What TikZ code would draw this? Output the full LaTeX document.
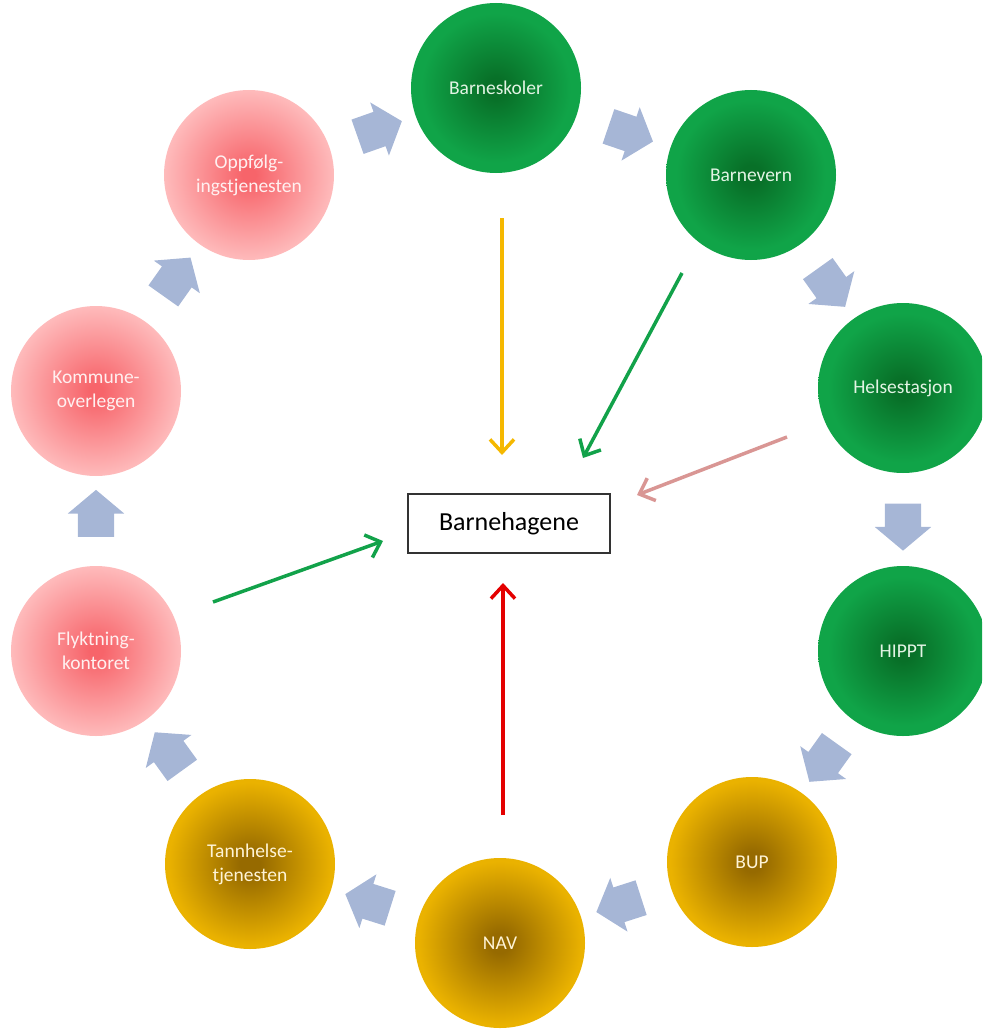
\documentclass[tikz,border=0pt]{standalone}
\usepackage{fontspec}
\setmainfont{Carlito}
\usetikzlibrary{shapes.arrows,arrows.meta}

% palette
\definecolor{gdark}{RGB}{8,112,40}
\definecolor{glight}{RGB}{16,164,72}
\definecolor{gtext}{RGB}{226,244,228}
\definecolor{pdark}{RGB}{247,100,106}
\definecolor{plight}{RGB}{255,198,198}
\definecolor{ptext}{RGB}{255,240,240}
\definecolor{odark}{RGB}{150,106,0}
\definecolor{olight}{RGB}{234,178,0}
\definecolor{otext}{RGB}{255,244,214}
\definecolor{flowblue}{RGB}{166,182,214}
\definecolor{linkgold}{RGB}{245,184,0}
\definecolor{linkgreen}{RGB}{18,162,74}
\definecolor{linkrose}{RGB}{217,150,148}
\definecolor{linkred}{RGB}{228,0,0}

% radial fills of the three circle families (circle rim near 35bp)
\pgfdeclareradialshading{greenfill}{\pgfpoint{0bp}{0bp}}{color(0bp)=(gdark); color(3bp)=(gdark); color(22bp)=(glight); color(50bp)=(glight)}
\pgfdeclareradialshading{pinkfill}{\pgfpoint{0bp}{0bp}}{color(0bp)=(pdark); color(2bp)=(pdark); color(28bp)=(plight); color(50bp)=(plight)}
\pgfdeclareradialshading{goldfill}{\pgfpoint{0bp}{0bp}}{color(0bp)=(odark); color(3bp)=(odark); color(24bp)=(olight); color(50bp)=(olight)}

\tikzset{
  ball/.style={circle, minimum size=170pt, inner sep=0pt, align=center,
    font=\fontsize{19.5}{24}\selectfont},
  gcirc/.style={ball, shade, shading=greenfill, text=gtext},
  pcirc/.style={ball, shade, shading=pinkfill, text=ptext},
  ocirc/.style={ball, shade, shading=goldfill, text=otext},
  flow/.style={single arrow, fill=flowblue, draw=none, minimum height=47pt,
    minimum width=56pt, single arrow head extend=10pt, single arrow tip angle=100,
    inner xsep=0pt, inner ysep=18pt, sloped, allow upside down},
  link/.style={line width=3.5pt, -{Straight Barb[length=13pt,width=24pt]}},
  hub/.style={draw=black!80, line width=1.3pt, fill=white, minimum width=202pt,
    minimum height=59pt, font=\fontsize{26}{30}\selectfont}
}

\begin{document}
\begin{tikzpicture}[x=1pt,y=-1pt]
\useasboundingbox (0,0) rectangle (982,1030);
\clip (0,0) rectangle (982,1030);

% services around the ring
\node[gcirc] (skoler) at (496,88)  {Barneskoler};
\node[gcirc] (vern)   at (751,175) {Barnevern};
\node[gcirc] (helse)  at (903,388) {Helsestasjon};
\node[gcirc] (hippt)  at (903,651) {HIPPT};
\node[ocirc] (bup)    at (752,862) {BUP};
\node[ocirc] (nav)    at (500,943) {NAV};
\node[ocirc] (tann)   at (250,864) {Tannhelse-\\tjenesten};
\node[pcirc] (flykt)  at (96,651)  {Flyktning-\\kontoret};
\node[pcirc] (komm)   at (96,391)  {Kommune-\\overlegen};
\node[pcirc] (oppf)   at (249,175) {Oppfølg-\\ingstjenesten};

% block arrows along the ring
\path (oppf)  -- node[flow] (f1)  {} (skoler);
\path (skoler)-- node[flow] (f2)  {} (vern);
\path (vern)  -- node[flow] (f3)  {} (helse);
\path (helse) -- node[flow] (f4)  {} (hippt);
\path (hippt) -- node[flow] (f5)  {} (bup);
\path (bup)   -- node[flow] (f6)  {} (nav);
\path (nav)   -- node[flow] (f7)  {} (tann);
\path (tann)  -- node[flow] (f8)  {} (flykt);
\path (flykt) -- node[flow] (f9)  {} (komm);
\path (komm)  -- node[flow] (f10) {} (oppf);

% kindergarten hub
\node[hub] (bh) at (509,523.5) {Barnehagene};

% links into the hub
\coordinate (skolerOut) at (502,218);
\coordinate (skolerIn)  at (502,455);
\coordinate (vernOut)   at (682,273);
\coordinate (vernIn)    at (583,458);
\coordinate (helseOut)  at (787,437);
\coordinate (helseIn)   at (637,495);
\coordinate (flyktOut)  at (213,602);
\coordinate (flyktIn)   at (383,541);
\coordinate (navOut)    at (503,815);
\coordinate (navIn)     at (503,583);

\draw[link, linkgold]  (skolerOut) -- (skolerIn);
\draw[link, linkgreen] (vernOut)   -- (vernIn);
\draw[link, linkrose]  (helseOut)  -- (helseIn);
\draw[link, linkgreen] (flyktOut)  -- (flyktIn);
\draw[link, linkred]   (navOut)    -- (navIn);
\end{tikzpicture}
\end{document}
